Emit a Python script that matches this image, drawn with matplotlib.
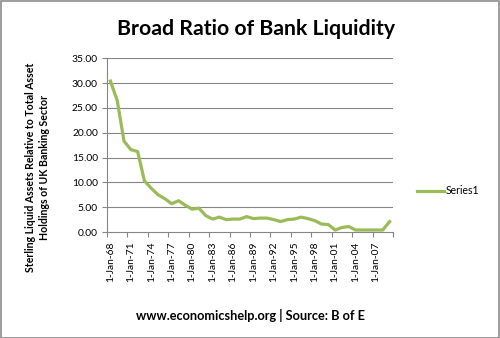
import matplotlib
matplotlib.use("Agg")
import matplotlib.pyplot as plt
from matplotlib.patches import Rectangle

years = list(range(1968, 2010))
values = [30.4, 26.5, 18.3, 16.6, 16.2, 10.3, 8.8, 7.5, 6.7, 5.7,
          6.3, 5.4, 4.6, 4.8, 3.3, 2.6, 3.0, 2.5, 2.6, 2.6,
          3.1, 2.7, 2.8, 2.8, 2.5, 2.1, 2.5, 2.6, 3.0, 2.7,
          2.3, 1.6, 1.5, 0.4, 0.9, 1.1, 0.4, 0.4, 0.4, 0.4,
          0.4, 2.1]
title = "Broad Ratio of Bank Liquidity"
ylabel = "Sterling Liquid Assets Relative to Total Asset\nHoldings of UK Banking Sector"
xlabel = "www.economicshelp.org | Source: B of E"
series_name = "Series1"
yticks = [0, 5, 10, 15, 20, 25, 30, 35]

plt.rcParams['font.family'] = ['Lato', 'DejaVu Sans']

fig = plt.figure(figsize=(5.0, 3.38), dpi=100)
ax = fig.add_axes([0.214, 0.3136, 0.572, 0.514])

x = list(range(len(years)))
green = "#9BBB59"
grid = "#868686"
ax.plot(x, values, color=green, lw=2.3, solid_joinstyle='round', label=series_name)

ax.set_xlim(-0.5, len(years) - 0.5)
ax.set_ylim(0, 35)
ax.set_yticks(yticks)
ax.set_yticklabels([f"{v:.2f}" for v in yticks], fontsize=7.4)
for v in yticks[1:]:
    ax.axhline(v, color=grid, lw=0.8, zorder=0)

lab_idx = list(range(0, len(years), 3))
ax.set_xticks(lab_idx)
ax.set_xticklabels([f"1-Jan-{years[i] % 100:02d}" for i in lab_idx], rotation=90, fontsize=7.4)
ax.tick_params(axis='x', which='major', length=0, pad=7)
ax.set_xticks([i - 0.5 for i in range(0, len(years) + 1, 3)], minor=True)
ax.tick_params(axis='x', which='minor', length=3.5, color=grid, width=0.8)
ax.tick_params(axis='y', length=3.5, color=grid, width=0.8, pad=3)

for s in ['top', 'right']:
    ax.spines[s].set_visible(False)
for s in ['left', 'bottom']:
    ax.spines[s].set_color(grid)
    ax.spines[s].set_linewidth(0.8)

fig.text(0.512, 0.915, title, ha='center', va='center', fontsize=15.3, fontweight='bold')
fig.text(0.075, 0.505, ylabel, ha='center', va='center', rotation=90, fontsize=7.6,
         fontweight='bold', linespacing=1.35)
fig.text(0.5, 0.068, xlabel, ha='center', va='center', fontsize=9.2, fontweight='bold')

leg = fig.legend(loc='center left', bbox_to_anchor=(0.815, 0.435), frameon=False,
                 fontsize=7.6, handlelength=2.6, handletextpad=0.1)

fig.patches.append(Rectangle((0.001, 0.001), 0.997, 0.996, transform=fig.transFigure,
                             fill=False, edgecolor="#8c8c8c", lw=1.2))
fig.savefig("out.png", dpi=100)
